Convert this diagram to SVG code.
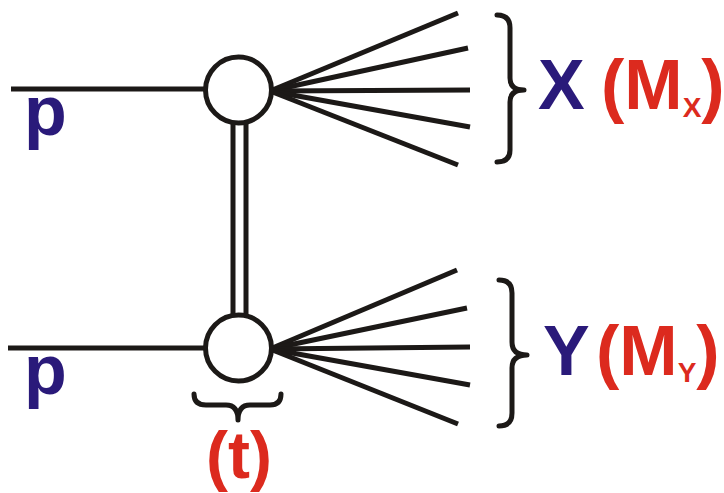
<svg xmlns="http://www.w3.org/2000/svg" width="724" height="493" viewBox="0 0 724 493">
<style>
.ln{stroke:#1c1917;stroke-width:5;fill:none;stroke-linecap:butt}
.br{stroke:#1c1917;stroke-width:5;fill:none;stroke-linecap:round;stroke-linejoin:round}
.vx{fill:#fff;stroke:#1c1917;stroke-width:5}
.b{font-family:"Liberation Sans",Arial,sans-serif;font-weight:bold;fill:#2a1a7a}
.r{font-family:"Liberation Sans",Arial,sans-serif;font-weight:bold;fill:#dc2a1e}
</style>
<g id="connectors">
<line class="ln" x1="11" y1="89" x2="205" y2="89"/>
<line class="ln" x1="8" y1="348" x2="205" y2="348"/>
<line class="ln" x1="233" y1="120" x2="233" y2="318"/>
<line class="ln" x1="246" y1="120" x2="246" y2="318"/>
<g id="fan-top">
<line class="ln" x1="270" y1="91" x2="458" y2="13"/>
<line class="ln" x1="270" y1="91" x2="468" y2="48"/>
<line class="ln" x1="270" y1="91" x2="470" y2="90"/>
<line class="ln" x1="270" y1="91" x2="470" y2="127"/>
<line class="ln" x1="270" y1="91" x2="458" y2="165"/>
</g>
<g id="fan-bottom">
<line class="ln" x1="270" y1="349" x2="457" y2="270"/>
<line class="ln" x1="270" y1="349" x2="467" y2="308"/>
<line class="ln" x1="270" y1="349" x2="470" y2="347"/>
<line class="ln" x1="270" y1="349" x2="470" y2="385"/>
<line class="ln" x1="270" y1="349" x2="458" y2="424"/>
</g>
</g>
<g id="vertex-top"><circle class="vx" cx="238.5" cy="90" r="33"/></g>
<g id="vertex-bottom"><circle class="vx" cx="238.5" cy="348" r="33"/></g>
<g id="p-top"><text class="b" x="24" y="135" font-size="70">p</text></g>
<g id="p-bottom"><text class="b" x="24" y="394" font-size="70">p</text></g>
<g id="brace-x"><path class="br" d="M497,15 Q510,15 510,28 L510,78 Q510,90 524,90 Q510,90 510,102 L510,150 Q510,162 497,162"/></g>
<g id="brace-y"><path class="br" d="M499,280 Q512,280 512,293 L512,342 Q512,355 527,355 Q512,355 512,368 L512,413 Q512,426 499,426"/></g>
<g id="brace-t"><path class="br" d="M194,394 Q194,405 206,405 L226,405 Q238,405 238,420 Q238,405 250,405 L270,405 Q281,405 281,394"/></g>
<g id="label-x">
<text class="b" x="538" y="109" font-size="70">X</text>
<text class="r" x="601" y="109" font-size="70">(M<tspan font-size="28" dy="8">X</tspan><tspan dy="-8">)</tspan></text>
</g>
<g id="label-y">
<text class="b" x="543" y="375" font-size="70">Y</text>
<text class="r" x="596" y="375" font-size="70">(M<tspan font-size="28" dy="7">Y</tspan><tspan dy="-7">)</tspan></text>
</g>
<g id="label-t"><text class="r" x="239" y="478" font-size="66" text-anchor="middle">(t)</text></g>
</svg>
